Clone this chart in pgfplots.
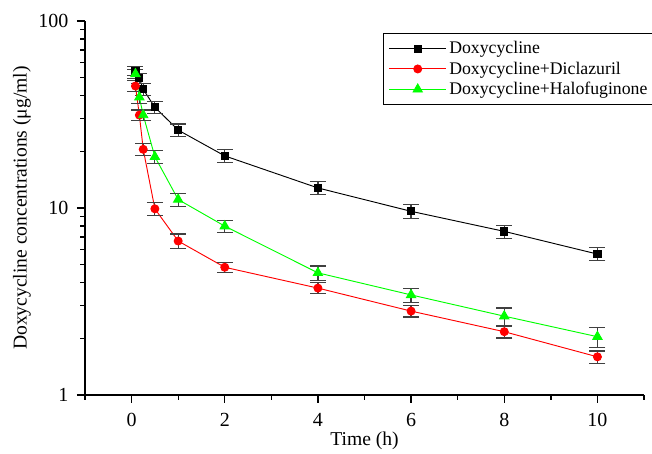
\documentclass[border=0pt]{standalone}
\usepackage{fontspec}
\setmainfont{Liberation Serif}
\usepackage{pgfplots}
\pgfplotsset{compat=1.18}
\definecolor{pkgreen}{HTML}{00FF00}
\definecolor{pkred}{HTML}{FF0000}
\begin{document}
\begin{tikzpicture}
\begin{axis}[
  scale only axis,
  width=419.25pt, height=280.5pt,
  axis lines=left,
  axis line style={-, line width=1.1pt},
  xmin=-1, xmax=11,
  ymode=log, ymin=1, ymax=100,
  xtick={0,2,4,6,8,10},
  minor xtick={-1,1,3,5,7,9,11},
  ytick={1,10,100},
  yticklabels={1,10,100},
  tick align=outside,
  major tick length=6pt,
  minor tick length=3.5pt,
  every tick/.style={black, line width=1pt},
  /pgf/number format/assume math mode=true,
  tick label style={font=\fontsize{15}{15}\selectfont},
  xticklabel style={yshift=-4pt},
  yticklabel style={xshift=-3pt},
  xlabel={Time (h)},
  ylabel={Doxycycline concentrations (μg/ml)},
  label style={font=\fontsize{14.7}{15}\selectfont},
  xlabel style={at={(axis description cs:0.5,-0.1212)}, anchor=center},
  ylabel style={at={(axis description cs:-0.1127,0.5)}, anchor=center},
  legend style={at={(0.533,0.968)}, anchor=north west, draw=black, line width=0.8pt,
    font=\fontsize{13.3}{15}\selectfont, row sep=0.5pt, inner xsep=4pt, inner ysep=4pt},
  legend cell align=left,
  legend image code/.code={\draw[mark repeat=2,mark phase=2] plot coordinates {(0cm,0cm)(0.75cm,0cm)(1.5cm,0cm)};},
  error bars/y dir=both,
  error bars/y explicit,
  error bars/error bar style={black!75, line width=0.9pt},
  error bars/error mark options={rotate=90, mark size=6pt, line width=0.9pt, black!75},
]
% Doxycycline alone
\addplot[black, line width=0.7pt, mark=square*, mark size=2.7pt, mark options={solid}] coordinates {
  (0.083,54.2) +- (0,3.0)
  (0.167,49.4) +- (0,3.0)
  (0.25,43.1) +- (0,3.0)
  (0.5,34.6) +- (0,2.5)
  (1,26.1) +- (0,2.0)
  (2,19.0) +- (0,1.5)
  (4,12.8) +- (0,1.0)
  (6,9.6) +- (0,0.8)
  (8,7.5) +- (0,0.6)
  (10,5.67) +- (0,0.45)
};
\addlegendentry{Doxycycline}
% with diclazuril
\addplot[pkred, line width=0.7pt, mark=*, mark size=3pt, mark options={solid}] coordinates {
  (0.083,44.9) +- (0,3.0)
  (0.167,31.4) +- (0,2.0)
  (0.25,20.6) +- (0,1.5)
  (0.5,9.9) +- (0,0.8)
  (1,6.66) +- (0,0.6)
  (2,4.82) +- (0,0.3)
  (4,3.73) +- (0,0.25)
  (6,2.81) +- (0,0.2)
  (8,2.18) +- (0,0.16)
  (10,1.60) +- (0,0.12)
};
\addlegendentry{Doxycycline+Diclazuril}
% with halofuginone
\addplot[pkgreen, line width=0.7pt, mark=triangle*, mark size=4pt, mark options={solid}] coordinates {
  (0.083,52.1) +- (0,3.0)
  (0.167,39.1) +- (0,3.0)
  (0.25,31.4) +- (0,2.0)
  (0.5,18.8) +- (0,1.5)
  (1,11.1) +- (0,0.9)
  (2,8.0) +- (0,0.6)
  (4,4.5) +- (0,0.4)
  (6,3.43) +- (0,0.3)
  (8,2.64) +- (0,0.28)
  (10,2.05) +- (0,0.25)
};
\addlegendentry{Doxycycline+Halofuginone}
\end{axis}
% page frame matching the reference margins round the axis
\pgfresetboundingbox
\path (current axis.south west) ++(-63.75pt,-43.5pt) rectangle ([shift={(6pt,15.75pt)}]current axis.north east);
\end{tikzpicture}
\end{document}
